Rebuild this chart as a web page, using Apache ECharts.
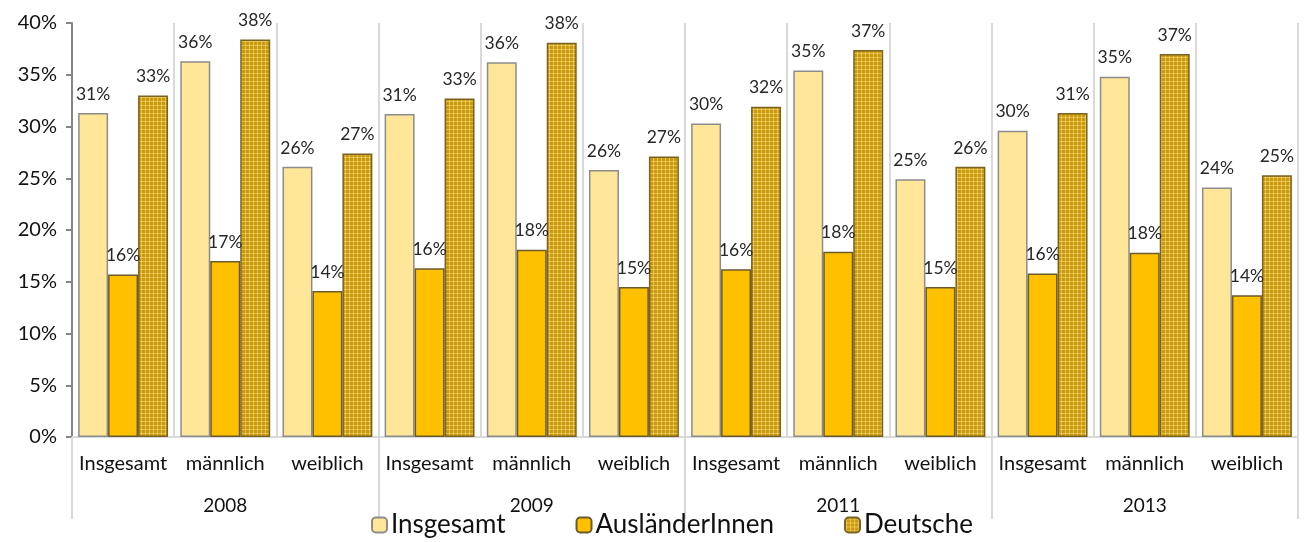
<!DOCTYPE html>
<html>
<head>
<meta charset="utf-8">
<script src="https://cdn.jsdelivr.net/npm/echarts@6/dist/echarts.min.js"></script>
<style>html,body{margin:0;padding:0;background:#fff}#c{width:1312px;height:542px}</style>
</head>
<body>
<div id="c"></div>
<script>
var categories = ['Insgesamt','männlich','weiblich','Insgesamt','männlich','weiblich','Insgesamt','männlich','weiblich','Insgesamt','männlich','weiblich'];
var years = ['2008','2009','2011','2013'];
var seriesNames = ['Insgesamt','AusländerInnen','Deutsche'];
var insgesamt = [31.3,36.3,26.1, 31.2,36.2,25.8, 30.3,35.4,24.9, 29.6,34.8,24.1];
var auslaender = [15.7,17.0,14.1, 16.3,18.1,14.5, 16.2,17.9,14.5, 15.8,17.8,13.7];
var deutsche = [33.0,38.4,27.4, 32.7,38.1,27.1, 31.9,37.4,26.1, 31.3,37.0,25.3];
var yTicks = [0,5,10,15,20,25,30,35,40];

var pc = document.createElement('canvas');
pc.width = 4; pc.height = 4;
var g = pc.getContext('2d');
g.fillStyle = '#C99A10'; g.fillRect(0,0,4,4);
g.fillStyle = '#E6C048';
g.fillRect(1,0,1,4); g.fillRect(0,1,4,1);
g.fillStyle = '#F2D36A'; g.fillRect(1,1,1,1);

var font = 'Lato, "Open Sans", sans-serif';
var chart = echarts.init(document.getElementById('c'));
var lbl = {show:true, position:'top', distance:10, color:'#262626', fontSize:17.5, fontFamily:font,
  formatter:function(p){return Math.round(p.value)+'%';}};
chart.setOption({
  animation:false,
  grid:{left:72, right:14, top:23, bottom:105},
  legend:{bottom:-1, left:366, itemWidth:15, itemHeight:15, itemGap:70,
    textStyle:{fontSize:26, fontFamily:font, color:'#111', padding:[0,0,0,-1]},
    data:seriesNames},
  xAxis:[{
    type:'category', data:categories, position:'bottom',
    axisLine:{show:true, lineStyle:{color:'#d9d9d9', width:2}},
    axisTick:{show:false},
    axisLabel:{fontSize:20, fontFamily:font, color:'#111', margin:17, interval:0},
    splitLine:{show:true, lineStyle:{color:'#d9d9d9', width:2}}
  },{
    type:'category', data:years, position:'bottom',
    axisLine:{show:false},
    axisTick:{show:true, length:82, lineStyle:{color:'#d9d9d9', width:2}},
    axisLabel:{fontSize:19, fontFamily:font, color:'#111', margin:59},
    splitLine:{show:false}
  }],
  yAxis:{type:'value', min:0, max:40, interval:5,
    axisLine:{show:true, lineStyle:{color:'#868686', width:2}},
    axisTick:{show:true, length:6, lineStyle:{color:'#868686', width:2}},
    axisLabel:{formatter:'{value}%', fontSize:20, fontFamily:font, color:'#111', margin:15},
    splitLine:{show:false}},
  series:[
    {name:seriesNames[0], type:'bar', data:insgesamt, barGap:'0%', barCategoryGap:'12%',
     itemStyle:{color:'#FFE699', borderColor:'#8c8c8c', borderWidth:1.5}, label:lbl},
    {name:seriesNames[1], type:'bar', data:auslaender,
     itemStyle:{color:'#FFC000', borderColor:'#6b5a2a', borderWidth:1.5}, label:lbl},
    {name:seriesNames[2], type:'bar', data:deutsche,
     itemStyle:{color:{image:pc, repeat:'repeat'}, borderColor:'#7a6220', borderWidth:1.5}, label:lbl}
  ]
});
</script>
</body>
</html>
